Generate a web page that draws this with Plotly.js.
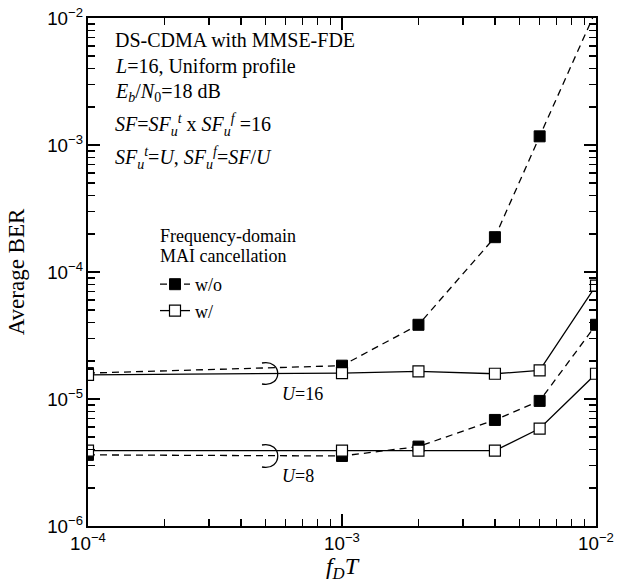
<!DOCTYPE html>
<html>
<head>
<meta charset="utf-8">
<script src="https://cdn.plot.ly/plotly-3.0.1.min.js"></script>
<style>html,body{margin:0;padding:0;background:#fff;}#chart{width:633px;height:583px;}</style>
</head>
<body>
<div id="chart"></div>
<script>
// ---- data ----
const fdT = [1e-4, 1e-3, 2e-3, 4e-3, 6e-3, 1e-2];
const ber_U16_wo = [1.6e-5, 1.83e-5, 3.84e-5, 1.88e-4, 1.17e-3, 1.15e-2];
const ber_U16_w  = [1.55e-5, 1.6e-5, 1.65e-5, 1.58e-5, 1.68e-5, 7.8e-5];
const ber_U8_wo  = [3.63e-6, 3.56e-6, 4.22e-6, 6.84e-6, 9.66e-6, 3.84e-5];
const ber_U8_w   = [3.92e-6, 3.92e-6, 3.92e-6, 3.92e-6, 5.85e-6, 1.58e-5];
const xTickVals = [1e-4, 1e-3, 1e-2];
const yTickVals = [1e-6, 1e-5, 1e-4, 1e-3, 1e-2];

// ---- layout helpers (pixel -> paper) ----
const L = 88, R = 596, T = 18, B = 526;
const px = v => (v - L) / (R - L);
const py = v => (B - v) / (B - T);

const serif = "'Liberation Serif', 'Times New Roman', serif";
const sans = "'Liberation Sans', Arial, sans-serif";

const woStyle = () => ({mode: 'lines+markers', line: {color: '#000', width: 1.3, dash: '7px,5px'},
  marker: {symbol: 'square', size: 11, color: '#000', line: {color: '#000', width: 1}}});
const wStyle = () => ({mode: 'lines+markers', line: {color: '#000', width: 1.3},
  marker: {symbol: 'square', size: 11, color: '#fff', line: {color: '#000', width: 1.2}}});

const traces = [
  Object.assign({x: fdT, y: ber_U16_wo, name: 'w/o', legendgroup: 'wo', showlegend: true}, woStyle()),
  Object.assign({x: fdT, y: ber_U8_wo, name: 'w/o', legendgroup: 'wo', showlegend: false}, woStyle()),
  Object.assign({x: fdT, y: ber_U16_w, name: 'w/', legendgroup: 'w', showlegend: true}, wStyle()),
  Object.assign({x: fdT, y: ber_U8_w, name: 'w/', legendgroup: 'w', showlegend: false}, wStyle())
];

function arc(xL, yTop, xR, yBot) {
  return 'M ' + px(xL) + ' ' + py(yTop) +
    ' C ' + px(xR) + ' ' + py(yTop - 4) + ' ' + px(xR) + ' ' + py(yBot + 4) + ' ' + px(xL) + ' ' + py(yBot);
}

const textLines = [
  {t: 'DS-CDMA with MMSE-FDE', y: 40},
  {t: '<i>L</i>=16, Uniform profile', y: 66},
  {t: '<i>E</i><sub><i>b</i></sub>/<i>N</i><sub>0</sub>=18 dB', y: 93},
  {t: '<i>SF</i>=<i>SF</i><sub><i>u</i></sub><sup><i>t</i></sup> x <i>SF</i><sub><i>u</i></sub><sup><i>f</i></sup> =16', y: 125},
  {t: '<i>SF</i><sub><i>u</i></sub><sup><i>t</i></sup>=<i>U</i>, <i>SF</i><sub><i>u</i></sub><sup><i>f</i></sup>=<i>SF</i>/<i>U</i>', y: 158}
];
const annotations = textLines.map(o => ({
  xref: 'paper', yref: 'paper', x: px(113), y: py(o.y), xanchor: 'left', yanchor: 'middle',
  text: o.t, showarrow: false, font: {family: serif, size: 20, color: '#000'}
}));
[['Frequency-domain', 236], ['MAI cancellation', 256]].forEach(([t, y]) => annotations.push({
  xref: 'paper', yref: 'paper', x: px(158), y: py(y), xanchor: 'left', yanchor: 'middle',
  text: t, showarrow: false, font: {family: serif, size: 18, color: '#000'}
}));
annotations.push({xref: 'paper', yref: 'paper', x: px(280), y: py(394), xanchor: 'left', yanchor: 'middle',
  text: '<i>U</i>=16', showarrow: false, font: {family: serif, size: 18, color: '#000'}});
annotations.push({xref: 'paper', yref: 'paper', x: px(280), y: py(476), xanchor: 'left', yanchor: 'middle',
  text: '<i>U</i>=8', showarrow: false, font: {family: serif, size: 18, color: '#000'}});

const mk = () => ({
  tickmode: 'linear', tick0: 0, dtick: 1, exponentformat: 'power', showexponent: 'all',
  ticks: 'inside', ticklen: 12, tickwidth: 1.5, tickcolor: '#000',
  minor: {dtick: 'D1', ticks: 'inside', ticklen: 7, tickcolor: '#000'},
  showline: true, linecolor: '#000', linewidth: 2, mirror: 'ticks',
  showgrid: false, zeroline: false,
  tickfont: {family: sans, size: 15, color: '#000'}
});

const layout = {
  width: 633, height: 583,
  margin: {l: L, r: 633 - R, t: T, b: 583 - B, pad: 0},
  paper_bgcolor: '#fff', plot_bgcolor: '#fff',
  showlegend: true,
  legend: {
    x: px(155), y: py(266), xanchor: 'left', yanchor: 'top',
    bgcolor: 'rgba(0,0,0,0)', borderwidth: 0,
    font: {family: serif, size: 18, color: '#000'},
    tracegroupgap: 0, itemwidth: 30
  },
  xaxis: Object.assign(mk(), {
    type: 'log', range: [Math.log10(xTickVals[0]), Math.log10(xTickVals[xTickVals.length - 1])],
    title: {text: '<i>f</i><sub><i>D</i></sub><i>T</i>', font: {family: serif, size: 24, color: '#000'}, standoff: 2}
  }),
  yaxis: Object.assign(mk(), {
    type: 'log', range: [Math.log10(yTickVals[0]), Math.log10(yTickVals[yTickVals.length - 1])],
    title: {text: 'Average BER', font: {family: serif, size: 23, color: '#000'}, standoff: 16}
  }),
  shapes: [
    {type: 'path', xref: 'paper', yref: 'paper', path: arc(262, 363, 283, 384), line: {color: '#000', width: 1.3}},
    {type: 'path', xref: 'paper', yref: 'paper', path: arc(262, 445, 283, 467), line: {color: '#000', width: 1.3}}
  ],
  annotations: annotations
};

Plotly.newPlot('chart', traces, layout, {displayModeBar: false, staticPlot: true});
</script>
</body>
</html>
